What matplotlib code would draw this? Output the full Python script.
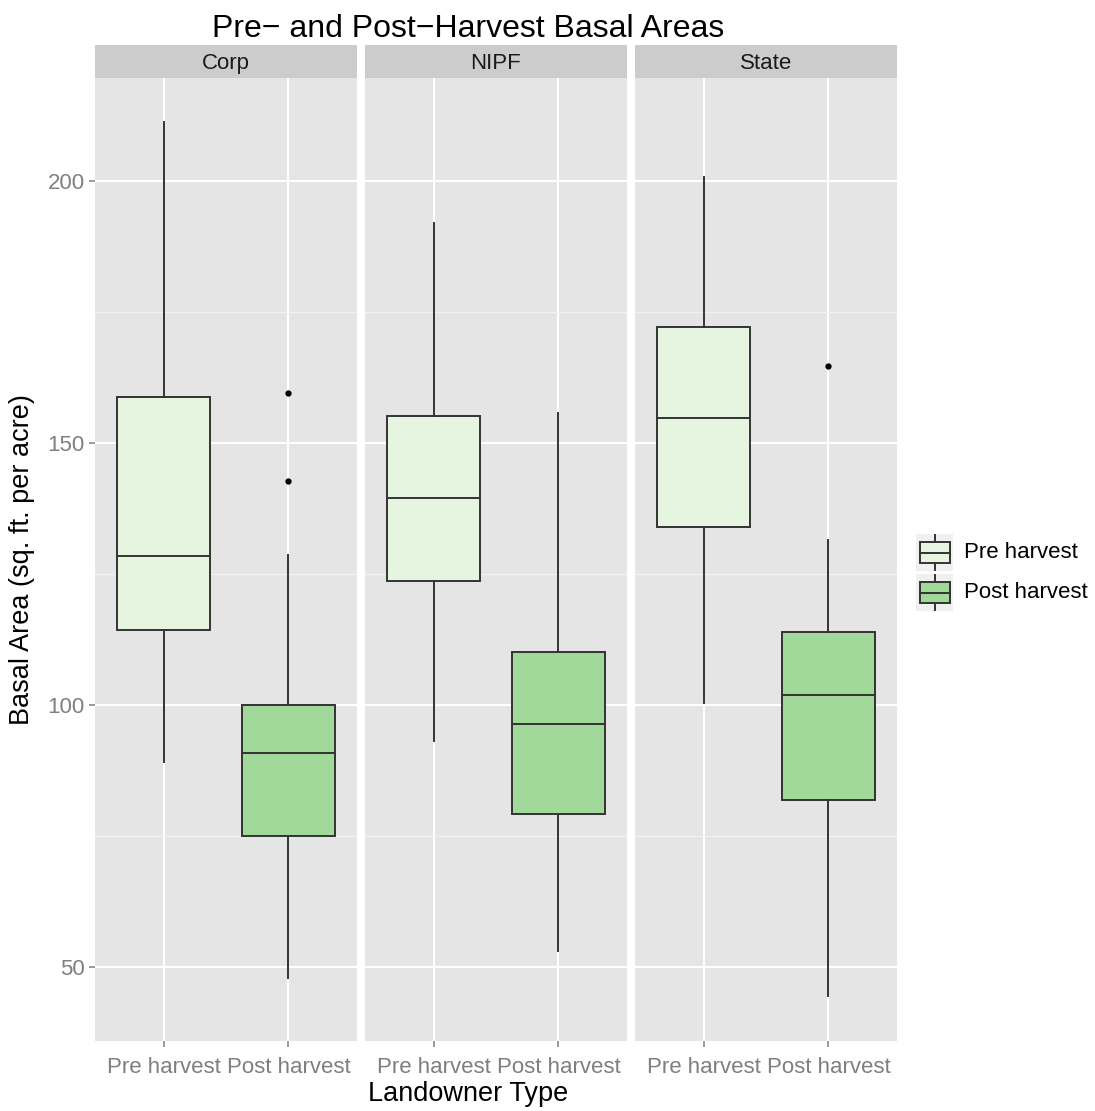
import numpy as np
import matplotlib.pyplot as plt
from matplotlib.patches import Rectangle

plt.rcParams['font.family'] = ['Liberation Sans', 'DejaVu Sans']

owners = ['Corp', 'NIPF', 'State']
periods = ['Pre harvest', 'Post harvest']
fills = ['#E5F5E0', '#A1D99B']

# five-number summaries per owner: [low whisker, Q1, median, Q3, high whisker]
pre_stats = {
    'Corp':  [89.1, 114.3, 128.4, 158.8, 211.3],
    'NIPF':  [93.1, 123.7, 139.5, 155.2, 192.0],
    'State': [100.4, 134.0, 154.8, 172.1, 200.8],
}
post_stats = {
    'Corp':  [47.9, 75.0, 90.8, 100.0, 128.6],
    'NIPF':  [53.1, 79.2, 96.4, 110.1, 155.7],
    'State': [44.5, 81.9, 101.9, 113.9, 131.5],
}
pre_outliers = {'Corp': [], 'NIPF': [], 'State': []}
post_outliers = {'Corp': [159.5, 142.7], 'NIPF': [], 'State': [164.7]}

W, H = 1095, 1111
fig = plt.figure(figsize=(W / 100, H / 100), dpi=100)


def px_axes(x0, y0, x1, y1):
    return fig.add_axes([x0 / W, 1 - y1 / H, (x1 - x0) / W, (y1 - y0) / H])


line_col = '#333333'
panel_x = [(95, 357), (365, 627), (635, 897)]
for i, owner in enumerate(owners):
    x0, x1 = panel_x[i]
    ax = px_axes(x0, 78, x1, 1041)
    ax.set_facecolor('#E5E5E5')
    for s in ax.spines.values():
        s.set_visible(False)
    ax.set_xlim(0.45, 2.55)
    ax.set_ylim(35.9, 219.7)
    ax.set_yticks([50, 100, 150, 200])
    ax.set_yticks([75, 125, 175], minor=True)
    ax.set_xticks([1, 2])
    ax.set_xticklabels(periods)
    ax.grid(True, which='major', color='white', linewidth=1.5)
    ax.grid(True, which='minor', axis='y', color='#F2F2F2', linewidth=0.9)
    ax.set_axisbelow(True)
    ax.tick_params(axis='both', which='major', colors='#7F7F7F', labelsize=16,
                   length=4, width=1.1)
    ax.tick_params(axis='x', pad=7.5)
    ax.tick_params(which='minor', length=0)
    if i > 0:
        ax.tick_params(axis='y', left=False, labelleft=False)

    stats = []
    for j, src in enumerate([(pre_stats, pre_outliers), (post_stats, post_outliers)]):
        lo, q1, med, q3, hi = src[0][owner]
        stats.append(dict(whislo=lo, q1=q1, med=med, q3=q3, whishi=hi,
                          fliers=src[1][owner], label=periods[j]))
    bp = ax.bxp(stats, positions=[1, 2], widths=0.75, showcaps=False,
                patch_artist=True, manage_ticks=False,
                boxprops=dict(edgecolor=line_col, linewidth=1.4),
                whiskerprops=dict(color=line_col, linewidth=1.4),
                medianprops=dict(color=line_col, linewidth=1.4),
                flierprops=dict(marker='o', markerfacecolor='black',
                                markeredgecolor='black', markersize=3.5))
    for patch, c in zip(bp['boxes'], fills):
        patch.set_facecolor(c)

    # facet strip
    sx = px_axes(x0, 45, x1, 78)
    sx.set_facecolor('#CCCCCC')
    sx.set_xticks([])
    sx.set_yticks([])
    for s in sx.spines.values():
        s.set_visible(False)
    sx.text(0.5, 0.45, owner, ha='center', va='center', fontsize=16,
            color='#1A1A1A', transform=sx.transAxes)

fig.text(468 / W, 1 - 29 / H, 'Pre\u2212 and Post\u2212Harvest Basal Areas',
         ha='center', va='center', fontsize=23)
fig.text(468 / W, 1 - 1094 / H, 'Landowner Type', ha='center', va='center',
         fontsize=19.5)
fig.text(22 / W, 1 - 560 / H, 'Basal Area (sq. ft. per acre)', ha='center',
         va='center', rotation=90, fontsize=19.5)

# legend keys, drawn in pixel units (y grows downward)
lg = px_axes(916, 534, 953, 612)
lg.set_xlim(0, 37)
lg.set_ylim(78, 0)
lg.axis('off')
for k, c in enumerate(fills):
    top = 40 * k
    lg.add_patch(Rectangle((0, top), 37, 37, facecolor='#F0F0F0',
                           edgecolor='none'))
    lg.plot([18.5, 18.5], [top + 1, top + 8], color=line_col, lw=1.4)
    lg.plot([18.5, 18.5], [top + 29, top + 36], color=line_col, lw=1.4)
    lg.add_patch(Rectangle((3.5, top + 8), 30, 21, facecolor=c,
                           edgecolor=line_col, linewidth=1.4))
    lg.plot([3.5, 33.5], [top + 18.5, top + 18.5], color=line_col, lw=1.4)
for k, p in enumerate(periods):
    fig.text(964 / W, 1 - (553 + 40 * k) / H, p, ha='left', va='center',
             fontsize=16)

fig.savefig('out.png', dpi=100)
